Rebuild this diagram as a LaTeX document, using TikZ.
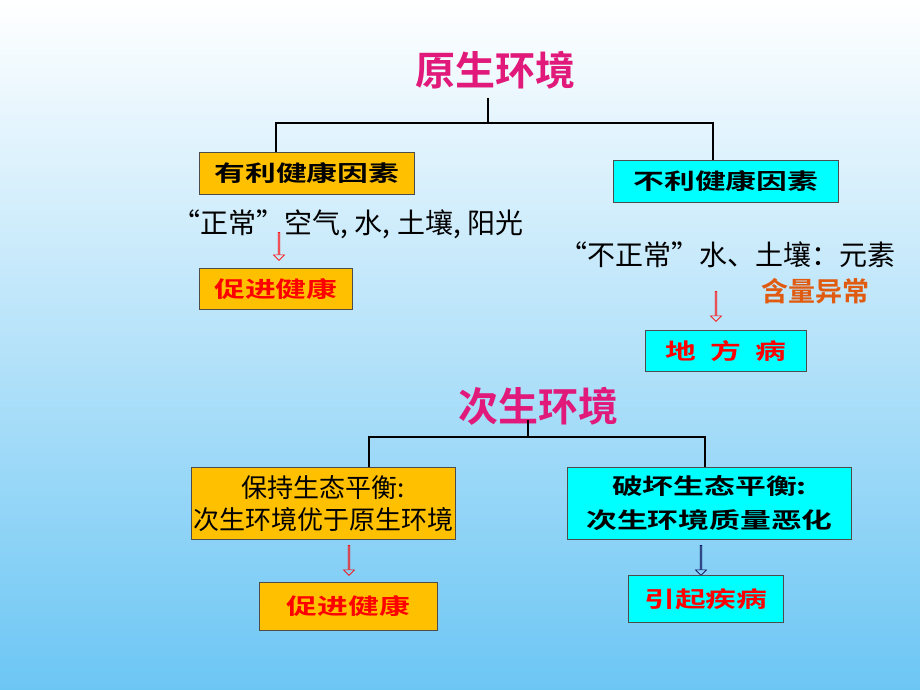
\documentclass[tikz,border=0pt]{standalone}
\usepackage{fontspec}
\setmainfont{Noto Sans CJK SC}
\newfontfamily\cjkb{Noto Sans CJK SC}[UprightFont=* Bold]
\newfontfamily\cjkw{Noto Sans CJK SC}[UprightFont=* Bold,FakeStretch=1.4]
\usetikzlibrary{shapes.arrows}
\definecolor{gold}{HTML}{FFC000}
\definecolor{cyn}{HTML}{00FFFF}
\definecolor{titlec}{HTML}{E0197A}
\definecolor{bgbot}{HTML}{6CC6F4}
\definecolor{orng}{HTML}{E05A10}
\begin{document}
\begin{tikzpicture}[x=1pt,y=-1pt,
  box/.style={draw=black!70,line width=0.8pt,inner sep=0pt,anchor=north west},
  gbox/.style={box,fill=gold},
  cbox/.style={box,fill=cyn},
  ttl/.style={font=\cjkb\fontsize{40}{44}\selectfont,text=titlec},
  btxt/.style={font=\cjkw\fontsize{22}{26}\selectfont},
  rtxt/.style={font=\cjkw\fontsize{22}{26}\selectfont,text=red},
  ptxt/.style={font=\fontsize{28}{32}\selectfont},
  harr/.style={single arrow,draw=#1,fill=none,rotate=-90,minimum width=11pt,single arrow head extend=2pt,inner sep=0pt,line width=0.6pt},
  tree/.style={line width=1.5pt}]
\useasboundingbox (0,0) rectangle (920,690);
\shade[top color=white,bottom color=bgbot] (0,0) rectangle (920,690);
% top section
\node[ttl] (t1) at (495,70) {原生环境};
\coordinate (j1) at (488,123);
\node[gbox,minimum width=215pt,minimum height=42pt] (a) at (199,152) {};
\node[btxt] at (a.center) {有利健康因素};
\node[cbox,minimum width=225pt,minimum height=42pt] (b) at (613,160) {};
\node[btxt] at (b.center) {不利健康因素};
\draw[tree] (488,98) -- (j1);
\draw[tree] (276,152) |- (j1) -| (713,160);
\node[ptxt] (p1) at (348,224) {“正常”空气, 水, 土壤, 阳光};
\node[gbox,minimum width=153pt,minimum height=41pt] (c) at (199,268) {};
\node[rtxt] at (c.center) {促进健康};
\node[harr=red,minimum height=28pt] (ar1) at (279,246) {};
\node[ptxt] (p2) at (727,255) {“不正常”水、土壤：元素};
\node[font=\cjkb\fontsize{27}{30}\selectfont,text=orng] (p3) at (815,291) {含量异常};
\node[harr=red,minimum height=30pt] (ar2) at (716,306) {};
\node[cbox,minimum width=161pt,minimum height=41pt] (d) at (645,330) {};
\node[rtxt] at (d.center) {地\ \ 方\ \ 病};
% bottom section
\node[ttl] (t2) at (538,406) {次生环境};
\coordinate (j2) at (528,437);
\node[gbox,minimum width=264pt,minimum height=72pt] (e) at (191,467) {};
\node[align=center,font=\fontsize{26}{32}\selectfont] at (e.center) {保持生态平衡:\\次生环境优于原生环境};
\node[cbox,minimum width=284pt,minimum height=72pt] (f) at (567,467) {};
\node[align=center,font=\cjkw\fontsize{22}{34}\selectfont] at (f.center) {破坏生态平衡:\\次生环境质量恶化};
\draw[tree] (528,420) -- (j2);
\draw[tree] (369,467) |- (j2) -| (705,467);
\node[harr=red,minimum height=30pt] (ar3) at (349,560) {};
\node[harr={black!70!blue},minimum height=30pt] (ar4) at (701,560) {};
\node[gbox,minimum width=178pt,minimum height=48pt] (g) at (259,582) {};
\node[rtxt] at (g.center) {促进健康};
\node[cbox,minimum width=155pt,minimum height=47pt] (h) at (628,575) {};
\node[rtxt] at (h.center) {引起疾病};
\end{tikzpicture}
\end{document}
